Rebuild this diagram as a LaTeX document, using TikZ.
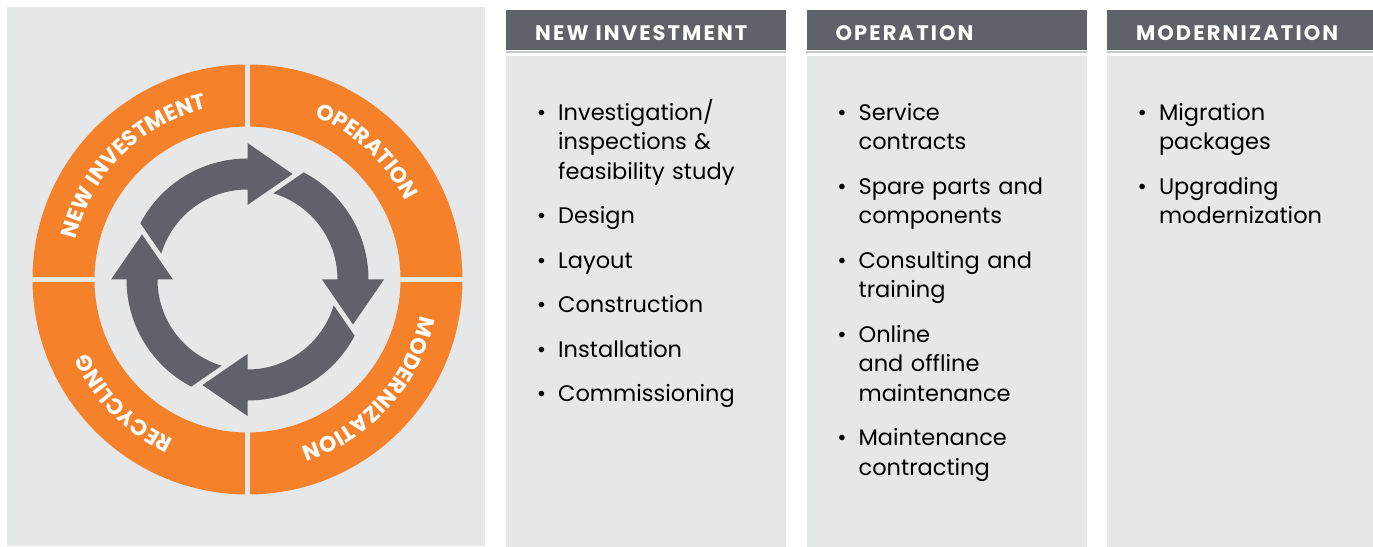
\documentclass[tikz,border=0pt]{standalone}
\usepackage{fontspec}
\setmainfont{Poppins}
\newfontfamily\spacedfam{Poppins}[LetterSpace=10]
\usetikzlibrary{positioning, decorations.text}

\definecolor{panelgray}{HTML}{E6E7E8}
\definecolor{headgray}{HTML}{5F6369}
\definecolor{ringorange}{HTML}{F5822A}
\definecolor{cyclegray}{HTML}{5F6369}
\definecolor{ruleline}{HTML}{C4C6C8}

\newcommand{\ringfont}{\bfseries\fontsize{22}{22}\selectfont}
\newcommand{\headfont}{\spacedfam\bfseries\fontsize{21}{21}\selectfont}
\newcommand{\listfont}{\fontsize{22.5}{29.5}\selectfont}

\newenvironment{bulletlist}{\begin{list}{\textbullet}{%
  \setlength{\leftmargin}{22pt}\setlength{\labelwidth}{10pt}%
  \setlength{\labelsep}{12pt}\setlength{\itemsep}{15pt}%
  \setlength{\parsep}{0pt}\setlength{\topsep}{0pt}\setlength{\partopsep}{0pt}}}%
  {\end{list}}

\tikzset{
  colhead/.style={fill=headgray, text=white, font=\headfont, anchor=north west,
    minimum height=40pt, inner ysep=0pt, inner xsep=29pt, text width=222pt, align=left,
    text height=21pt, text depth=0pt},
  colbody/.style={fill=panelgray, anchor=north west, minimum width=280pt,
    minimum height=491pt, inner sep=0pt},
  collist/.style={anchor=north west, inner sep=0pt, text width=240pt, align=left, font=\listfont},
  ringlabel/.style={decorate, decoration={text along path, text align=center,
    text color=white, text={|\ringfont|#1}}}
}

\begin{document}
\begin{tikzpicture}[x=1pt, y=1pt]
\useasboundingbox (0,0) rectangle (1373,546);

% left panel with the cycle
\fill[panelgray] (7,0) rectangle (485,539);

\begin{scope}[shift={(247.5,266.5)}]
  \fill[ringorange, even odd rule] (0,0) circle[radius=215] (0,0) circle[radius=153];
  \foreach \a in {0,90,180,270}
    \draw[panelgray, line width=5pt] (\a:148) -- (\a:220);

  \path[ringlabel={NEW INVESTMENT}] (180:176) arc[start angle=180, end angle=90, radius=176];
  \path[ringlabel={OPERATION}] (92:176) arc[start angle=92, end angle=2, radius=176];
  \path[ringlabel={MODERNIZATION}] (3:176) arc[start angle=3, end angle=-87, radius=176];
  \path[ringlabel={RECYCLING}] (-90:176) arc[start angle=-90, end angle=-180, radius=176];

  % four arrows, tail cut parallel to the head before it
  \foreach \rot in {0,-90,-180,-270}
    \fill[cyclegray, rotate=\rot] (163.3:90) -- (152.3:121)
      arc[start angle=152.3, end angle=90, radius=121] -- (90:136.5) -- (45,105.5)
      -- (90:74.5) -- (90:90) arc[start angle=90, end angle=163.3, radius=90] -- cycle;
\end{scope}

% columns
\node[colhead] (h1) at (506,536) {NEW INVESTMENT};
\node[colhead, right=20pt of h1] (h2) {OPERATION};
\node[colhead, right=20pt of h2] (h3) {MODERNIZATION};

\foreach \h/\b in {h1/b1, h2/b2, h3/b3} {
  \draw[ruleline, line width=1.5pt] ([yshift=-1.7pt]\h.south west) -- ([yshift=-1.7pt]\h.south east);
  \node[colbody] (\b) at ([yshift=-5pt]\h.south west) {};
}

\node[collist] (l1) at ([xshift=30pt, yshift=-35pt]b1.north west) {%
  \begin{bulletlist}
  \item Investigation/\\inspections \&\\feasibility study
  \item Design
  \item Layout
  \item Construction
  \item Installation
  \item Commissioning
  \end{bulletlist}};
\node[collist] (l2) at ([xshift=30pt, yshift=-35pt]b2.north west) {%
  \begin{bulletlist}
  \item Service\\contracts
  \item Spare parts and\\components
  \item Consulting and\\training
  \item Online\\and offline\\maintenance
  \item Maintenance\\contracting
  \end{bulletlist}};
\node[collist] (l3) at ([xshift=30pt, yshift=-35pt]b3.north west) {%
  \begin{bulletlist}
  \item Migration\\packages
  \item Upgrading\\modernization
  \end{bulletlist}};

\end{tikzpicture}
\end{document}
